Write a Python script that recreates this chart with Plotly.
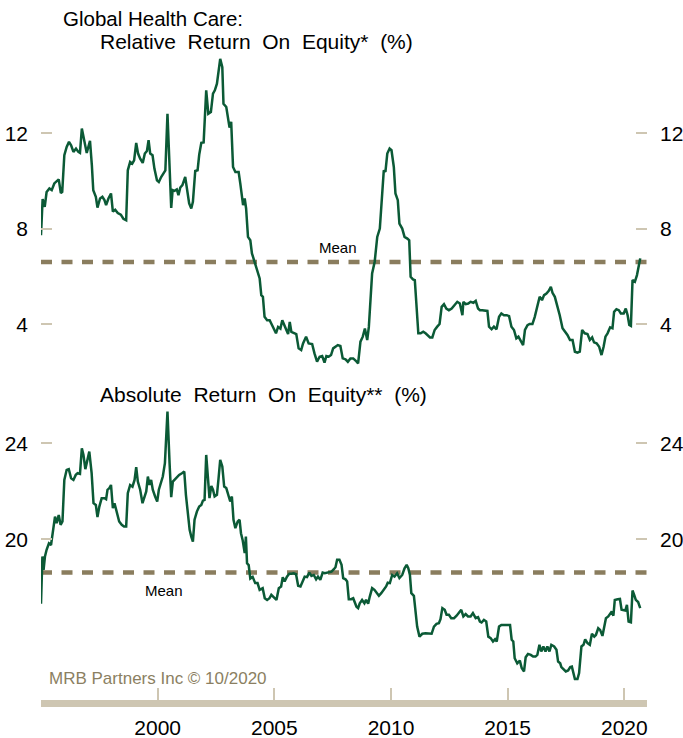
import plotly.graph_objects as go

# ---------------- data ----------------
rel_year = [1995.00, 1995.07, 1995.16, 1995.24, 1995.36, 1995.46, 1995.57, 1995.67, 1995.76, 1995.85,
            1995.91, 1996.00, 1996.10, 1996.20, 1996.29, 1996.39, 1996.50, 1996.60, 1996.67, 1996.75,
            1996.82, 1996.90, 1996.96, 1997.03, 1997.10, 1997.18, 1997.24, 1997.35, 1997.42, 1997.53,
            1997.63, 1997.72, 1997.79, 1997.89, 1998.00, 1998.08, 1998.18, 1998.29, 1998.42, 1998.53,
            1998.65, 1998.72, 1998.82, 1998.91, 1998.99, 1999.08, 1999.16, 1999.25, 1999.36, 1999.45,
            1999.54, 1999.61, 1999.68, 1999.78, 1999.86, 1999.97, 2000.05, 2000.15, 2000.25, 2000.33,
            2000.42, 2000.49, 2000.58, 2000.64, 2000.72, 2000.82, 2000.89, 2000.97, 2001.06, 2001.18,
            2001.25, 2001.35, 2001.44, 2001.51, 2001.61, 2001.71, 2001.78, 2001.87, 2001.97, 2002.08,
            2002.17, 2002.28, 2002.37, 2002.45, 2002.54, 2002.63, 2002.68, 2002.77, 2002.82, 2002.94,
            2003.01, 2003.08, 2003.15, 2003.23, 2003.33, 2003.47, 2003.54, 2003.66, 2003.73, 2003.79,
            2003.87, 2003.97, 2004.04, 2004.14, 2004.26, 2004.37, 2004.44, 2004.51, 2004.58, 2004.69,
            2004.80, 2004.87, 2004.97, 2005.07, 2005.16, 2005.26, 2005.34, 2005.44, 2005.52, 2005.59,
            2005.66, 2005.73, 2005.83, 2005.94, 2006.04, 2006.15, 2006.23, 2006.36, 2006.47, 2006.62,
            2006.72, 2006.83, 2006.94, 2007.05, 2007.15, 2007.23, 2007.33, 2007.43, 2007.52, 2007.62,
            2007.72, 2007.83, 2007.93, 2008.05, 2008.15, 2008.26, 2008.38, 2008.48, 2008.59, 2008.69,
            2008.79, 2008.88, 2008.98, 2009.05, 2009.12, 2009.19, 2009.30, 2009.41, 2009.52, 2009.62,
            2009.69, 2009.76, 2009.84, 2009.94, 2010.02, 2010.12, 2010.19, 2010.29, 2010.36, 2010.48,
            2010.58, 2010.70, 2010.78, 2010.84, 2010.94, 2011.02, 2011.08, 2011.17, 2011.27, 2011.38,
            2011.48, 2011.55, 2011.67, 2011.77, 2011.87, 2011.98, 2012.08, 2012.17, 2012.27, 2012.37,
            2012.48, 2012.60, 2012.73, 2012.84, 2012.95, 2013.06, 2013.10, 2013.20, 2013.31, 2013.41,
            2013.53, 2013.63, 2013.73, 2013.81, 2013.91, 2014.03, 2014.13, 2014.20, 2014.31, 2014.41,
            2014.52, 2014.63, 2014.73, 2014.84, 2014.96, 2015.06, 2015.16, 2015.27, 2015.37, 2015.46,
            2015.56, 2015.66, 2015.74, 2015.85, 2015.94, 2016.06, 2016.16, 2016.27, 2016.37, 2016.47,
            2016.56, 2016.66, 2016.76, 2016.85, 2016.92, 2017.02, 2017.13, 2017.23, 2017.35, 2017.45,
            2017.56, 2017.67, 2017.78, 2017.88, 2017.99, 2018.09, 2018.19, 2018.30, 2018.42, 2018.52,
            2018.62, 2018.70, 2018.81, 2018.92, 2019.02, 2019.11, 2019.19, 2019.28, 2019.39, 2019.49,
            2019.56, 2019.66, 2019.76, 2019.85, 2019.97, 2020.06, 2020.14, 2020.21, 2020.28, 2020.35,
            2020.45, 2020.54, 2020.61, 2020.68]
rel_roe = [7.73, 9.24, 8.92, 9.54, 9.69, 9.62, 9.90, 9.99, 10.07, 9.50,
           9.55, 11.08, 11.43, 11.64, 11.50, 11.22, 11.36, 11.22, 11.18, 12.20,
           11.85, 11.57, 11.18, 11.43, 11.68, 10.66, 9.62, 9.34, 8.89, 9.27,
           9.34, 9.20, 8.99, 9.27, 9.48, 8.72, 8.80, 8.66, 8.59, 8.42,
           8.36, 10.45, 10.80, 10.73, 10.87, 11.60, 11.15, 10.94, 10.76, 11.15,
           11.26, 11.71, 11.15, 11.08, 10.52, 10.03, 9.96, 10.17, 10.34, 10.45,
           12.82, 11.29, 8.87, 9.62, 9.59, 9.65, 9.41, 9.73, 9.83, 10.17,
           9.65, 9.06, 8.85, 9.13, 10.42, 10.45, 11.10, 11.60, 11.62, 13.80,
           12.82, 12.89, 13.66, 13.80, 14.08, 14.64, 15.12, 14.77, 13.24, 13.10,
           12.75, 12.24, 12.48, 10.59, 10.38, 10.38, 9.90, 8.99, 9.27, 8.85,
           7.66, 7.52, 6.97, 6.62, 6.27, 5.92, 5.22, 5.15, 4.31, 4.17,
           4.17, 4.03, 3.89, 3.62, 3.89, 3.82, 4.17, 3.89, 3.75, 3.59,
           4.10, 3.68, 3.62, 3.59, 2.99, 2.92, 3.20, 3.48, 3.20, 3.17,
           2.78, 2.43, 2.64, 2.67, 2.39, 2.67, 2.64, 2.71, 2.99, 3.06,
           3.13, 3.09, 2.57, 2.53, 2.43, 2.57, 2.57, 2.48, 2.36, 3.27,
           3.48, 3.82, 3.34, 3.89, 4.87, 6.13, 6.62, 7.66, 8.01, 9.34,
           10.45, 10.38, 11.15, 11.36, 11.29, 10.59, 9.48, 9.20, 8.22, 8.01,
           7.66, 7.59, 7.52, 5.99, 5.88, 5.85, 4.87, 3.62, 3.62, 3.69,
           3.62, 3.55, 3.45, 3.45, 3.76, 3.90, 4.01, 4.73, 4.84, 4.66,
           4.59, 4.66, 4.80, 4.94, 4.87, 4.38, 4.94, 4.84, 4.87, 4.94,
           4.90, 4.98, 4.66, 4.59, 4.59, 4.59, 4.56, 3.90, 3.79, 3.90,
           3.79, 4.31, 4.45, 4.38, 4.38, 4.34, 3.90, 3.76, 3.41, 3.48,
           3.27, 3.13, 3.76, 3.96, 4.01, 4.01, 4.31, 4.73, 5.15, 5.01,
           5.22, 5.29, 5.40, 5.57, 5.32, 5.15, 4.80, 4.38, 3.83, 3.69,
           3.55, 3.34, 3.34, 2.85, 2.81, 2.85, 3.76, 3.62, 3.59, 3.34,
           3.45, 3.24, 3.20, 3.06, 2.71, 3.06, 3.48, 3.62, 3.87, 3.83,
           4.52, 4.63, 4.59, 4.45, 4.45, 4.66, 4.38, 3.97, 3.93, 5.85,
           5.78, 6.06, 6.48, 6.76]

abs_year = [1995.00, 1995.06, 1995.11, 1995.17, 1995.24, 1995.34, 1995.43, 1995.53, 1995.60, 1995.67,
            1995.76, 1995.84, 1995.92, 1996.00, 1996.10, 1996.19, 1996.29, 1996.39, 1996.49, 1996.57,
            1996.67, 1996.75, 1996.82, 1996.90, 1996.99, 1997.07, 1997.17, 1997.25, 1997.35, 1997.42,
            1997.50, 1997.60, 1997.72, 1997.79, 1997.85, 1997.93, 1998.00, 1998.08, 1998.15, 1998.25,
            1998.35, 1998.46, 1998.56, 1998.65, 1998.72, 1998.82, 1998.92, 1999.01, 1999.08, 1999.15,
            1999.25, 1999.35, 1999.43, 1999.51, 1999.58, 1999.65, 1999.72, 1999.79, 1999.89, 1999.98,
            2000.05, 2000.14, 2000.22, 2000.31, 2000.42, 2000.51, 2000.58, 2000.65, 2000.72, 2000.82,
            2000.92, 2001.04, 2001.14, 2001.21, 2001.28, 2001.37, 2001.44, 2001.51, 2001.58, 2001.68,
            2001.78, 2001.87, 2001.94, 2002.01, 2002.08, 2002.15, 2002.22, 2002.30, 2002.37, 2002.44,
            2002.54, 2002.61, 2002.68, 2002.77, 2002.85, 2002.94, 2003.03, 2003.11, 2003.18, 2003.25,
            2003.33, 2003.43, 2003.51, 2003.57, 2003.64, 2003.73, 2003.78, 2003.83, 2003.90, 2003.97,
            2004.07, 2004.18, 2004.28, 2004.37, 2004.50, 2004.59, 2004.69, 2004.79, 2004.87, 2004.97,
            2005.09, 2005.19, 2005.29, 2005.36, 2005.44, 2005.54, 2005.64, 2005.73, 2005.83, 2005.93,
            2006.02, 2006.12, 2006.22, 2006.30, 2006.40, 2006.50, 2006.59, 2006.69, 2006.79, 2006.87,
            2006.97, 2007.07, 2007.16, 2007.26, 2007.36, 2007.45, 2007.55, 2007.62, 2007.69, 2007.79,
            2007.88, 2007.95, 2008.05, 2008.12, 2008.19, 2008.29, 2008.38, 2008.45, 2008.52, 2008.59,
            2008.66, 2008.76, 2008.86, 2008.93, 2009.02, 2009.09, 2009.19, 2009.29, 2009.38, 2009.48,
            2009.58, 2009.69, 2009.79, 2009.86, 2009.95, 2010.05, 2010.15, 2010.26, 2010.36, 2010.48,
            2010.58, 2010.67, 2010.74, 2010.81, 2010.87, 2010.98, 2011.05, 2011.12, 2011.22, 2011.34,
            2011.48, 2011.62, 2011.74, 2011.84, 2011.95, 2012.05, 2012.12, 2012.20, 2012.30, 2012.38,
            2012.48, 2012.58, 2012.70, 2012.81, 2012.91, 2013.01, 2013.10, 2013.20, 2013.30, 2013.41,
            2013.51, 2013.63, 2013.73, 2013.81, 2013.88, 2013.98, 2014.08, 2014.17, 2014.27, 2014.37,
            2014.46, 2014.53, 2014.63, 2014.73, 2014.84, 2014.99, 2015.10, 2015.17, 2015.24, 2015.30,
            2015.41, 2015.52, 2015.60, 2015.70, 2015.77, 2015.87, 2015.99, 2016.09, 2016.19, 2016.27,
            2016.36, 2016.44, 2016.53, 2016.62, 2016.70, 2016.79, 2016.87, 2016.99, 2017.09, 2017.16,
            2017.25, 2017.30, 2017.39, 2017.49, 2017.59, 2017.68, 2017.75, 2017.80, 2017.88, 2017.99,
            2018.06, 2018.16, 2018.25, 2018.32, 2018.42, 2018.52, 2018.61, 2018.71, 2018.78, 2018.88,
            2018.96, 2019.06, 2019.13, 2019.21, 2019.31, 2019.39, 2019.46, 2019.53, 2019.59, 2019.71,
            2019.81, 2019.88, 2019.96, 2020.04, 2020.11, 2020.18, 2020.28, 2020.35, 2020.42, 2020.49,
            2020.59, 2020.68]
abs_roe = [17.31, 19.28, 18.72, 19.28, 19.56, 19.83, 19.76, 20.53, 20.94, 20.67,
           21.01, 20.60, 20.74, 22.47, 22.89, 22.92, 22.54, 22.47, 22.68, 22.75,
           22.72, 23.79, 23.51, 22.92, 23.31, 23.65, 22.75, 21.50, 21.43, 20.92,
           21.36, 21.71, 21.71, 21.67, 22.06, 22.13, 22.26, 21.29, 21.50, 21.08,
           20.74, 20.60, 20.53, 20.53, 21.92, 22.26, 22.19, 22.47, 23.00, 22.40,
           22.06, 21.50, 21.71, 21.99, 22.61, 22.26, 22.47, 22.06, 21.78, 21.57,
           22.06, 22.33, 22.61, 23.17, 25.32, 23.17, 21.75, 22.40, 22.47, 22.61,
           22.68, 22.75, 22.82, 21.85, 21.08, 20.39, 20.11, 19.90, 20.81, 21.15,
           21.36, 21.43, 21.61, 21.64, 23.51, 22.75, 21.71, 22.22, 22.06, 21.78,
           21.85, 22.54, 23.31, 23.03, 22.19, 22.13, 21.85, 21.57, 21.78, 20.81,
           20.46, 20.74, 20.81, 20.25, 19.97, 19.42, 20.11, 19.00, 18.92, 18.36,
           18.43, 18.17, 18.17, 17.89, 17.96, 17.54, 17.47, 17.54, 17.68, 17.58,
           17.47, 17.96, 18.03, 18.42, 18.24, 18.44, 18.56, 18.56, 18.58, 18.54,
           18.06, 18.03, 18.31, 18.44, 18.42, 18.61, 18.47, 18.51, 18.33, 18.44,
           18.31, 18.61, 18.58, 18.61, 18.61, 18.65, 18.75, 18.83, 19.14, 19.14,
           18.93, 18.38, 18.33, 18.24, 17.50, 17.50, 17.54, 17.33, 17.19, 17.13,
           17.33, 17.47, 17.33, 17.47, 17.31, 17.61, 17.96, 17.89, 17.75, 17.64,
           17.75, 17.89, 18.03, 18.19, 18.17, 18.51, 18.44, 18.58, 18.38, 18.51,
           18.79, 18.93, 18.79, 18.51, 17.75, 17.64, 16.92, 16.36, 15.94, 16.06,
           16.08, 16.08, 16.06, 16.36, 16.47, 16.50, 16.67, 17.13, 17.06, 16.85,
           16.85, 16.71, 16.71, 16.81, 16.92, 17.06, 16.78, 16.88, 16.78, 16.78,
           16.92, 16.71, 16.75, 16.57, 16.53, 16.64, 16.57, 15.94, 15.88, 15.74,
           15.83, 15.74, 16.36, 16.43, 16.43, 16.43, 16.43, 15.81, 15.74, 15.04,
           14.83, 14.94, 14.63, 14.49, 15.08, 15.22, 15.18, 15.11, 15.11, 15.18,
           15.60, 15.32, 15.53, 15.32, 15.53, 15.32, 15.60, 15.53, 15.39, 14.90,
           14.83, 14.67, 14.58, 14.49, 14.53, 14.67, 14.69, 14.49, 14.17, 14.17,
           14.42, 15.53, 15.60, 15.83, 15.67, 15.60, 16.06, 15.94, 16.01, 16.29,
           16.22, 15.97, 16.36, 16.71, 16.78, 16.92, 16.99, 16.81, 17.47, 17.50,
           17.51, 17.06, 17.06, 17.03, 17.26, 16.57, 16.54, 17.86, 17.68, 17.47,
           17.38, 17.13]

rel_mean = 6.61
abs_mean = 18.61

x_tickvals = [1995, 2000, 2005, 2010, 2015, 2020]
x_ticktext = ["", "2000", "2005", "2010", "2015", "2020"]
rel_tickvals = [4, 8, 12]
abs_tickvals = [20, 24]

title_main = "Global Health Care:"
title_rel = "Relative\u00a0 Return\u00a0 On\u00a0 Equity*\u00a0 (%)"
title_abs = "Absolute\u00a0 Return\u00a0 On\u00a0 Equity**\u00a0 (%)"
mean_label = "Mean"
source_label = "MRB Partners Inc \u00a9 10/2020"

# ---------------- layout geometry ----------------
W, H = 683, 738
ML, MR, MT, MB = 41, 36, 50, 38
PW = W - ML - MR
PH = H - MT - MB


def px(x):
    return (x - ML) / PW


def py(y):
    return (H - MB - y) / PH


GREEN = "#0b5a36"
TAN = "#cec6b2"
OLIVE = "#8a7d5e"
SRC = "#8b7f62"
FONT = "Liberation Sans, Arial, sans-serif"

x_range = [1995, 2020.97]
rel_range = [2.0, 15.49]
abs_range = [13.30, 25.80]

fig = go.Figure()
fig.add_trace(go.Scatter(x=abs_year, y=abs_roe, xaxis="x", yaxis="y", mode="lines",
                         line=dict(color=GREEN, width=2.5), showlegend=False))
fig.add_trace(go.Scatter(x=abs_year, y=abs_roe, xaxis="x", yaxis="y3", mode="lines",
                         line=dict(color="rgba(0,0,0,0)", width=0), hoverinfo="skip", showlegend=False))
fig.add_trace(go.Scatter(x=rel_year, y=rel_roe, xaxis="x2", yaxis="y2", mode="lines",
                         line=dict(color=GREEN, width=2.5), showlegend=False))
fig.add_trace(go.Scatter(x=rel_year, y=rel_roe, xaxis="x2", yaxis="y4", mode="lines",
                         line=dict(color="rgba(0,0,0,0)", width=0), hoverinfo="skip", showlegend=False))

yax_common = dict(ticks="inside", ticklen=11, tickwidth=2, tickcolor=TAN, showline=False,
                  showgrid=False, zeroline=False, automargin=False, ticklabelstandoff=12,
                  tickfont=dict(family=FONT, size=21, color="#000000"), fixedrange=True)

top_dom = [py(372), 1.0]
bot_dom = [0.0, py(400)]

fig.update_layout(
    width=W, height=H,
    margin=dict(l=ML, r=MR, t=MT, b=MB, autoexpand=False),
    paper_bgcolor="white", plot_bgcolor="white",
    font=dict(family=FONT, color="#000000"),
    showlegend=False,
    xaxis=dict(domain=[0, 1], anchor="y", range=x_range, showline=True, linewidth=7, linecolor=TAN,
               ticks="inside", ticklen=12, tickwidth=2, tickcolor=TAN, automargin=False,
               tickvals=x_tickvals, ticktext=x_ticktext, showgrid=False, zeroline=False,
               tickfont=dict(family=FONT, size=21, color="#000000"), ticklabelstandoff=3),
    xaxis2=dict(domain=[0, 1], anchor="y2", range=x_range, visible=False, automargin=False),
    yaxis=dict(domain=bot_dom, anchor="x", range=abs_range, side="left", tickvals=abs_tickvals,
               **yax_common),
    yaxis3=dict(overlaying="y", anchor="x", range=abs_range, side="right", tickvals=abs_tickvals,
                **yax_common),
    yaxis2=dict(domain=top_dom, anchor="x2", range=rel_range, side="left", tickvals=rel_tickvals,
                **yax_common),
    yaxis4=dict(overlaying="y2", anchor="x2", range=rel_range, side="right", tickvals=rel_tickvals,
                **yax_common),
)

fig.add_shape(type="line", xref="x2 domain", yref="y2", x0=0, x1=1, y0=rel_mean, y1=rel_mean,
              line=dict(color=OLIVE, width=4.5, dash="11px,9.5px"), layer="below")
fig.add_shape(type="line", xref="x domain", yref="y", x0=0, x1=1, y0=abs_mean, y1=abs_mean,
              line=dict(color=OLIVE, width=4.5, dash="11px,9.5px"), layer="below")

ann = [
    dict(text=title_main, x=px(61), y=py(18.5), size=20.5, color="#000000", xanchor="left"),
    dict(text=title_rel, x=px(98), y=py(41), size=21, color="#000000", xanchor="left"),
    dict(text=title_abs, x=px(98), y=py(394.5), size=21, color="#000000", xanchor="left"),
    dict(text=mean_label, x=px(337.5), y=py(247.5), size=15, color="#000000", xanchor="center"),
    dict(text=mean_label, x=px(164), y=py(590.5), size=15, color="#000000", xanchor="center"),
    dict(text=source_label, x=px(47), y=py(678), size=17, color=SRC, xanchor="left"),
]
for a in ann:
    fig.add_annotation(text=a["text"], xref="paper", yref="paper", x=a["x"], y=a["y"],
                       xanchor=a["xanchor"], yanchor="middle", showarrow=False,
                       font=dict(family=FONT, size=a["size"], color=a["color"]))

# the page's default body margin would offset the figure; remove it so the figure sits at (0, 0)
fig.write_html("out.html", config={"displayModeBar": False, "staticPlot": True},
               post_script="document.body.style.margin='0';document.body.style.padding='0';")
